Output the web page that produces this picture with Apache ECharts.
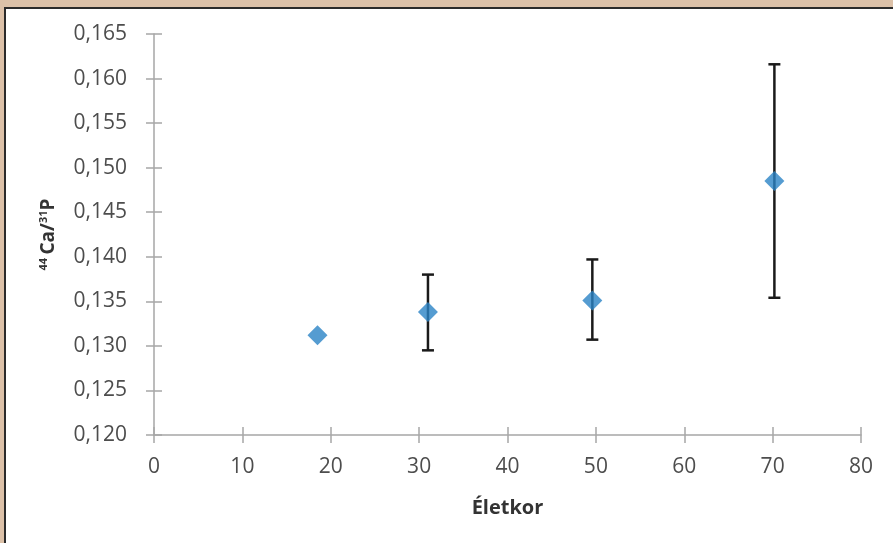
<!DOCTYPE html>
<html>
<head>
<meta charset="utf-8">
<script src="https://cdn.jsdelivr.net/npm/echarts@6/dist/echarts.min.js"></script>
<style>
html,body{margin:0;padding:0;background:#fff;}
#c{width:893px;height:543px;}
</style>
</head>
<body>
<div id="c"></div>
<script>
// Data
const ages = [18.5, 31.0, 49.6, 70.2];
const ratios = [0.1312, 0.1338, 0.1351, 0.1485];
const errLow = [null, 0.1295, 0.1307, 0.1354];
const errHigh = [null, 0.1380, 0.1397, 0.1616];
const xTicks = [0, 10, 20, 30, 40, 50, 60, 70, 80];
const yTicks = [0.120, 0.125, 0.130, 0.135, 0.140, 0.145, 0.150, 0.155, 0.160, 0.165];
const xName = 'Életkor';

const chart = echarts.init(document.getElementById('c'), null, {renderer: 'canvas'});

const pts = ages.map((a, i) => [a, ratios[i]]);
const errs = ages.map((a, i) => [a, errLow[i], errHigh[i]]).filter(d => d[1] != null);

const FONT = 'Open Sans';
const axisGray = '#a6a6a6';
const labelColor = '#4d4d4d';

const yLabelFmt = v => v.toFixed(3).replace('.', ',');

const option = {
  backgroundColor: '#ffffff',
  animation: false,
  graphic: [
    {type: 'rect', shape: {x: 0, y: 0, width: 893, height: 7}, style: {fill: '#dcc1a8'}, silent: true},
    {type: 'rect', shape: {x: 0, y: 0, width: 4, height: 543}, style: {fill: '#dcc1a8'}, silent: true},
    {type: 'rect', shape: {x: 4, y: 7, width: 889, height: 2}, style: {fill: '#2b2b2b'}, silent: true},
    {type: 'rect', shape: {x: 4, y: 7, width: 2, height: 536}, style: {fill: '#2b2b2b'}, silent: true}
  ],
  grid: {left: 154, right: 32, top: 34, bottom: 108, containLabel: false},
  xAxis: [
    {
      type: 'value', position: 'bottom', min: xTicks[0], max: xTicks[xTicks.length - 1], interval: 10,
      name: xName, nameLocation: 'middle', nameGap: 63,
      nameTextStyle: {fontFamily: FONT, fontWeight: 'bold', fontSize: 20, color: '#333333'},
      axisLine: {show: true, onZero: false, lineStyle: {color: axisGray, width: 1.5}},
      axisTick: {show: true, inside: false, length: 8, lineStyle: {color: axisGray, width: 1.5}},
      axisLabel: {fontFamily: FONT, fontSize: 21, color: labelColor, margin: 22},
      splitLine: {show: false}
    },
    {
      type: 'value', position: 'bottom', min: xTicks[0], max: xTicks[xTicks.length - 1], interval: 10,
      axisLine: {show: false, onZero: false},
      axisTick: {show: true, inside: true, length: 8, lineStyle: {color: axisGray, width: 1.5}},
      axisLabel: {show: false},
      splitLine: {show: false}
    }
  ],
  yAxis: [
    {
      type: 'value', position: 'left', min: yTicks[0], max: yTicks[yTicks.length - 1], interval: 0.005,
      name: '{s|44} {b|Ca/}{s|31}{b|P}', nameLocation: 'middle', nameGap: 94, nameRotate: 90,
      nameTextStyle: {
        rich: {
          b: {fontFamily: FONT, fontWeight: 'bold', fontSize: 19, color: '#333333', lineHeight: 22},
          s: {fontFamily: FONT, fontWeight: 'bold', fontSize: 11, color: '#333333', verticalAlign: 'top', lineHeight: 22}
        }
      },
      axisLine: {show: true, onZero: false, lineStyle: {color: axisGray, width: 1.5}},
      axisTick: {show: true, inside: false, length: 8, lineStyle: {color: axisGray, width: 1.5}},
      axisLabel: {fontFamily: FONT, fontSize: 21, color: labelColor, margin: 27, formatter: yLabelFmt},
      splitLine: {show: false}
    },
    {
      type: 'value', position: 'left', min: yTicks[0], max: yTicks[yTicks.length - 1], interval: 0.005,
      axisLine: {show: false, onZero: false},
      axisTick: {show: true, inside: true, length: 8, lineStyle: {color: axisGray, width: 1.5}},
      axisLabel: {show: false},
      splitLine: {show: false}
    }
  ],
  series: [
    {
      type: 'custom',
      xAxisIndex: 0, yAxisIndex: 0,
      data: errs,
      z: 2,
      renderItem: function (params, api) {
        const x = api.value(0);
        const lo = api.coord([x, api.value(1)]);
        const hi = api.coord([x, api.value(2)]);
        const cap = 6;
        const st = {stroke: '#1a1a1a', lineWidth: 2.5};
        return {
          type: 'group',
          children: [
            {type: 'line', shape: {x1: lo[0], y1: lo[1], x2: hi[0], y2: hi[1]}, style: st},
            {type: 'line', shape: {x1: lo[0] - cap, y1: lo[1], x2: lo[0] + cap, y2: lo[1]}, style: st},
            {type: 'line', shape: {x1: hi[0] - cap, y1: hi[1], x2: hi[0] + cap, y2: hi[1]}, style: st}
          ]
        };
      }
    },
    {
      type: 'scatter',
      xAxisIndex: 0, yAxisIndex: 0,
      data: pts,
      symbol: 'diamond',
      symbolSize: 20,
      z: 3,
      itemStyle: {color: '#2a83c6'}
    }
  ]
};
chart.setOption(option);
</script>
</body>
</html>
